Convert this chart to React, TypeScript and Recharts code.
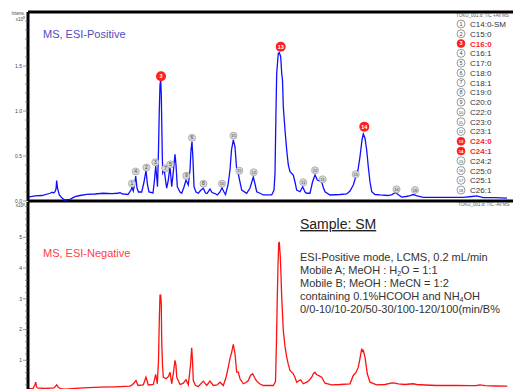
import { Line, LineChart, ReferenceDot, ReferenceLine, XAxis, YAxis } from "recharts";

// retention time (min) vs intensity (x10^8)
const POS_TRACE: [number, number][] = [
	[0, 0.044], [0.7, 0.056], [1.4, 0.061], [2.2, 0.086], [2.4, 0.097], [2.55, 0.089],
	[2.7, 0.103], [2.8, 0.133], [2.87, 0.226], [2.95, 0.144], [3.13, 0.067], [3.4, 0.033],
	[3.7, 0.011], [4.2, 0.019], [4.7, 0.048], [5.2, 0.061], [5.87, 0.074], [6.7, 0.078],
	[7.53, 0.086], [8.4, 0.083], [9.0, 0.086], [9.2, 0.094], [9.4, 0.078], [10.0, 0.072],
	[10.3, 0.122], [10.4, 0.156], [10.53, 0.111], [10.65, 0.178], [10.77, 0.278], [10.9, 0.144],
	[11.05, 0.1], [11.37, 0.1], [11.6, 0.211], [11.8, 0.339], [11.95, 0.178], [12.1, 0.1],
	[12.5, 0.089], [12.65, 0.233], [12.77, 0.389], [12.9, 0.233], [12.95, 0.159], [13.05, 0.567],
	[13.13, 1.011], [13.2, 1.289], [13.27, 1.344], [13.33, 1.178], [13.37, 0.9], [13.43, 0.511],
	[13.47, 0.311], [13.63, 0.344], [13.75, 0.233], [13.87, 0.144], [14.03, 0.233], [14.2, 0.383],
	[14.3, 0.256], [14.37, 0.159], [14.5, 0.289], [14.7, 0.519], [14.8, 0.4], [14.93, 0.159],
	[15.2, 0.1], [15.37, 0.086], [15.6, 0.156], [15.8, 0.233], [16.03, 0.178], [16.2, 0.344],
	[16.3, 0.567], [16.4, 0.659], [16.5, 0.456], [16.6, 0.159], [16.8, 0.1], [17.03, 0.086],
	[17.3, 0.122], [17.53, 0.141], [17.75, 0.089], [17.9, 0.083], [18.2, 0.133], [18.4, 0.094],
	[18.7, 0.083], [18.93, 0.067], [19.2, 0.1], [19.4, 0.148], [19.6, 0.1], [19.75, 0.072],
	[20.0, 0.178], [20.2, 0.344], [20.35, 0.567], [20.53, 0.678], [20.7, 0.603], [20.87, 0.344],
	[21.03, 0.3], [21.2, 0.211], [21.37, 0.122], [21.87, 0.086], [22.2, 0.144], [22.53, 0.267],
	[22.7, 0.189], [22.87, 0.103], [23.2, 0.086], [23.53, 0.067], [24.37, 0.067], [24.6, 0.122],
	[24.7, 0.308], [24.8, 1.011], [24.87, 1.419], [25.03, 1.641], [25.13, 1.65], [25.27, 1.603],
	[25.37, 1.419], [25.45, 1.344], [25.53, 1.048], [25.7, 0.789], [25.87, 0.567], [26.03, 0.4],
	[26.2, 0.326], [26.53, 0.289], [26.7, 0.211], [26.87, 0.122], [27.2, 0.103], [27.47, 0.159],
	[27.7, 0.1], [27.87, 0.086], [28.2, 0.086], [28.45, 0.211], [28.7, 0.289], [28.93, 0.233],
	[29.15, 0.222], [29.37, 0.211], [29.55, 0.144], [29.7, 0.103], [30.2, 0.067], [31.2, 0.072],
	[31.87, 0.078], [32.2, 0.111], [32.53, 0.178], [32.8, 0.278], [33.0, 0.344], [33.2, 0.492],
	[33.4, 0.678], [33.53, 0.744], [33.7, 0.697], [33.87, 0.567], [34.03, 0.381], [34.2, 0.211],
	[34.37, 0.103], [34.7, 0.072], [35.2, 0.067], [36.0, 0.061], [36.4, 0.072], [36.75, 0.094],
	[37.0, 0.072], [37.37, 0.044], [37.8, 0.05], [38.2, 0.061], [38.53, 0.072], [38.9, 0.056],
	[39.53, 0.041], [41.2, 0.041], [43.53, 0.041], [44.4, 0.05], [44.87, 0.056], [45.53, 0.037],
	[46.7, 0.037], [47.9, 0.033],
];

const NEG_TRACE: [number, number][] = [
	[0.03, 0.072], [0.5, 0.082], [0.7, 0.212], [0.77, 0.287], [0.85, 0.147], [0.93, 0.098],
	[1.7, 0.082], [2.6, 0.098], [2.87, 0.202], [3.05, 0.114], [3.37, 0.065], [3.87, 0.059],
	[4.7, 0.082], [5.53, 0.104], [7.2, 0.124], [8.7, 0.137], [10.2, 0.157], [10.47, 0.212],
	[10.8, 0.342], [11.0, 0.179], [11.53, 0.202], [11.8, 0.45], [12.03, 0.196], [12.53, 0.212],
	[12.77, 0.538], [12.93, 0.235], [13.05, 0.995], [13.13, 2.299], [13.2, 3.115], [13.27, 3.115],
	[13.33, 2.789], [13.37, 1.647], [13.45, 0.832], [13.53, 0.45], [13.8, 0.398], [14.05, 0.473],
	[14.2, 0.613], [14.37, 0.235], [14.55, 0.603], [14.7, 0.995], [14.8, 0.832], [14.87, 0.45],
	[15.2, 0.212], [15.5, 0.245], [15.8, 0.365], [16.03, 0.202], [16.25, 0.832], [16.37, 1.409],
	[16.45, 0.995], [16.53, 0.342], [16.75, 0.179], [17.03, 0.147], [17.53, 0.32], [17.87, 0.179],
	[18.2, 0.32], [18.53, 0.179], [18.9, 0.196], [19.2, 0.287], [19.53, 0.179], [19.8, 0.44],
	[20.03, 0.776], [20.2, 1.06], [20.37, 1.265], [20.53, 1.517], [20.7, 1.213], [20.87, 0.613],
	[21.03, 0.613], [21.2, 0.398], [21.53, 0.235], [21.8, 0.277], [22.03, 0.342], [22.25, 0.506],
	[22.47, 0.561], [22.65, 0.44], [22.87, 0.32], [23.2, 0.228], [23.53, 0.179], [24.53, 0.179],
	[24.75, 0.31], [24.85, 1.647], [24.93, 3.059], [25.0, 4.093], [25.07, 4.801], [25.13, 4.853],
	[25.23, 4.364], [25.3, 3.767], [25.37, 3.059], [25.53, 1.973], [25.7, 1.451], [25.87, 1.102],
	[26.03, 0.864], [26.2, 0.669], [26.53, 0.561], [26.7, 0.44], [26.87, 0.287], [27.05, 0.326],
	[27.27, 0.365], [27.53, 0.235], [27.87, 0.287], [28.1, 0.342], [28.37, 0.45], [28.55, 0.571],
	[28.7, 0.613], [28.85, 0.538], [29.03, 0.506], [29.37, 0.45], [29.55, 0.342], [29.7, 0.254],
	[30.37, 0.202], [31.2, 0.212], [32.2, 0.235], [32.53, 0.506], [32.8, 0.603], [33.03, 0.776],
	[33.2, 1.06], [33.37, 1.376], [33.45, 1.288], [33.53, 1.321], [33.7, 1.102], [33.93, 0.561],
	[34.2, 0.287], [34.87, 0.202], [35.7, 0.212], [36.4, 0.261], [36.7, 0.254], [37.03, 0.235],
	[37.7, 0.212], [38.2, 0.228], [38.53, 0.235], [38.87, 0.212], [39.7, 0.196], [40.87, 0.179],
	[42.87, 0.179], [44.2, 0.173], [44.87, 0.179], [45.2, 0.202], [45.7, 0.173], [46.7, 0.163],
	[47.93, 0.157],
];

// peak number, retention time, label height
const POS_PEAKS: [number, number, number][] = [
	[1, 10.4, 0.194], [4, 10.77, 0.328], [2, 11.85, 0.372], [3, 12.73, 0.43],
	[3, 13.3, 1.386], [7, 13.73, 0.363], [5, 14.23, 0.406], [9, 15.83, 0.281],
	[6, 16.4, 0.703], [8, 17.55, 0.192], [10, 19.4, 0.192], [15, 20.55, 0.726],
	[15, 21.13, 0.337], [12, 22.57, 0.319], [13, 25.27, 1.714], [11, 27.53, 0.208],
	[12, 28.7, 0.341], [11, 29.47, 0.241], [15, 32.77, 0.297], [14, 33.63, 0.826],
	[16, 36.85, 0.13], [18, 38.7, 0.122],
];
// the red (main) annotations, by index in POS_PEAKS
const MAIN_PEAK_IDX = [4, 14, 19];

const COMPOUNDS = [
	"C14:0-SM", "C15:0", "C16:0", "C16:1", "C17:0", "C18:0", "C18:1", "C19:0", "C20:0",
	"C22:0", "C23:0", "C23:1", "C24:0", "C24:1", "C24:2", "C25:0", "C25:1", "C26:1",
];
const HIGHLIGHTED = [3, 13, 14];

const POS_TICKS = [
	0, 0.1, 0.2, 0.3, 0.4, 0.5, 0.6, 0.7, 0.8, 0.9, 1.0, 1.1, 1.2, 1.3, 1.4, 1.5, 1.6, 1.7,
	1.8, 1.9, 2.0,
];
const POS_TICK_LABELS = [0, 0.5, 1.0, 1.5];
const NEG_TICKS = [
	0, 0.2, 0.4, 0.6, 0.8, 1, 1.2, 1.4, 1.6, 1.8, 2, 2.2, 2.4, 2.6, 2.8, 3, 3.2, 3.4, 3.6, 3.8,
	4, 4.2, 4.4, 4.6, 4.8, 5, 5.2, 5.4, 5.6, 5.8, 6,
];
const NEG_TICK_LABELS = [1, 2, 3, 4, 5];

const FONT = "'Liberation Sans', Arial, sans-serif";
const RED = "#ff1f1f";

function makeTick(labels: number[], digits: number) {
	return (props: any) => {
		const { x, y, payload } = props;
		const v = payload.value as number;
		const major = labels.some((l) => Math.abs(l - v) < 1e-6);
		return (
			<g>
				<line x1={x - (major ? 5 : 3)} x2={x} y1={y} y2={y} stroke="#555" strokeWidth={0.6} />
				{major && (
					<text x={x - 6} y={y + 1.8} textAnchor="end" fontSize={5} fill="#444" fontFamily={FONT}>
						{v.toFixed(digits)}
					</text>
				)}
			</g>
		);
	};
}

function PeakMark(props: any) {
	const { cx, cy, n, main } = props;
	if (main) {
		return (
			<g>
				<circle cx={cx} cy={cy} r={5} fill={RED} />
				<text x={cx} y={cy + 2} textAnchor="middle" fontSize={5.5} fontWeight="bold" fill="#fff" fontFamily={FONT}>
					{n}
				</text>
			</g>
		);
	}
	return (
		<g>
			<circle cx={cx} cy={cy} r={3.6} fill="#d6d6d6" stroke="#8a8a8a" strokeWidth={0.5} />
			<text x={cx} y={cy + 1.7} textAnchor="middle" fontSize={n > 9 ? 4 : 5} fill="#444" fontFamily={FONT}>
				{n}
			</text>
		</g>
	);
}

const posData = POS_TRACE.map(([t, v]) => ({ t, v }));
const negData = NEG_TRACE.map(([t, v]) => ({ t, v }));

export default function App() {
	return (
		<div style={{ position: "absolute", left: 0, top: 0, width: 513, height: 389, overflow: "hidden", background: "#fff" }}>
			<div style={{ position: "absolute", left: 0, top: 0 }}>
				<LineChart width={513} height={203} data={posData} margin={{ top: 12, right: 0, bottom: 2, left: 0 }}>
					<XAxis type="number" dataKey="t" domain={[0, 48.5]} hide />
					<YAxis
						type="number"
						domain={[0, 2.1]}
						ticks={POS_TICKS}
						width={28}
						interval={0}
						tickSize={0}
						tickMargin={0}
						tickLine={false}
						axisLine={{ stroke: "#000", strokeWidth: 3 }}
						tick={makeTick(POS_TICK_LABELS, 1)}
					/>
					<ReferenceLine y={2.1} stroke="#000" strokeWidth={3} />
					<ReferenceLine y={0} stroke="#000" strokeWidth={3} />
					<Line type="linear" dataKey="v" stroke="#1010ff" strokeWidth={1.3} dot={false} isAnimationActive={false} />
					{POS_PEAKS.map(([n, t, v], i) => (
						<ReferenceDot
							key={i}
							x={t}
							y={v}
							r={4}
							shape={(p: any) => <PeakMark {...p} n={n} main={MAIN_PEAK_IDX.includes(i)} />}
						/>
					))}
				</LineChart>
			</div>
			<div style={{ position: "absolute", left: 0, top: 201 }}>
				<LineChart width={513} height={190} data={negData} margin={{ top: 1, right: 0, bottom: 0, left: 0 }}>
					<XAxis type="number" dataKey="t" domain={[0, 48.5]} hide />
					<YAxis
						type="number"
						domain={[0, 6.15]}
						ticks={NEG_TICKS}
						width={28}
						interval={0}
						tickSize={0}
						tickMargin={0}
						tickLine={false}
						axisLine={{ stroke: "#000", strokeWidth: 3 }}
						tick={makeTick(NEG_TICK_LABELS, 0)}
					/>
					<Line type="linear" dataKey="v" stroke="#ff1010" strokeWidth={1.3} dot={false} isAnimationActive={false} />
				</LineChart>
			</div>
			<svg width={513} height={389} style={{ position: "absolute", left: 0, top: 0, pointerEvents: "none" }} fontFamily={FONT}>
				<text x={25} y={15} textAnchor="end" fontSize={4.5} fill="#444">Intens.</text>
				<text x={25} y={20.5} textAnchor="end" fontSize={4.5} fill="#444">
					x10<tspan dy={-1.5} fontSize={3.5}>8</tspan>
				</text>
				<text x={25} y={207} textAnchor="end" fontSize={4.5} fill="#444">
					x10<tspan dy={-1.5} fontSize={3.5}>8</tspan>
				</text>
				<text x={43} y={38} fontSize={11} fill="#4c4cc4">MS, ESI-Positive</text>
				<text x={43} y={257} fontSize={11} fill="#ff4040">MS, ESI-Negative</text>
				<text x={456} y={17} fontSize={4.5} fill="#555">TOKU_001.d: TIC +All MS</text>
				<text x={458} y={206} fontSize={4.5} fill="#555">TOKU_001.d: TIC -All MS</text>
				{COMPOUNDS.map((c, i) => {
					const cy = 24 + 9.77 * i;
					const hi = HIGHLIGHTED.includes(i + 1);
					return (
						<g key={c}>
							<circle cx={461} cy={cy} r={4} fill={hi ? RED : "none"} stroke={hi ? RED : "#555"} strokeWidth={0.6} />
							<text x={461} y={cy + 1.8} textAnchor="middle" fontSize={i + 1 > 9 ? 4.2 : 5.5} fill={hi ? "#fff" : "#444"} fontWeight={hi ? "bold" : "normal"}>
								{i + 1}
							</text>
							<text x={470} y={cy + 3} fontSize={8} fill={hi ? RED : "#333"} fontWeight={hi ? "bold" : "normal"}>
								{c}
							</text>
						</g>
					);
				})}
				<text x={300} y={229} fontSize={14} fill="#222" textDecoration="underline">Sample: SM</text>
				<g fontSize={11} fill="#333">
					<text x={300} y={261}>ESI-Positive mode, LCMS, 0.2 mL/min</text>
					<text x={300} y={274.1}>
						Mobile A; MeOH : H<tspan fontSize={7} dy={2}>2</tspan><tspan dy={-2}>O = 1:1</tspan>
					</text>
					<text x={300} y={287.2}>Mobile B; MeOH : MeCN = 1:2</text>
					<text x={300} y={300.3}>
						containing 0.1%HCOOH and NH<tspan fontSize={7} dy={2}>4</tspan><tspan dy={-2}>OH</tspan>
					</text>
					<text x={300} y={313.4}>0/0-10/10-20/50-30/100-120/100(min/B%</text>
				</g>
			</svg>
		</div>
	);
}
